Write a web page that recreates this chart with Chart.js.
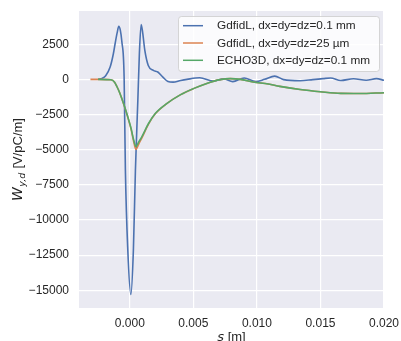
<!DOCTYPE html>
<html><head><meta charset="utf-8">
<script src="https://cdn.jsdelivr.net/npm/chart.js@4/dist/chart.umd.min.js"></script>
<style>html,body{margin:0;padding:0;background:#fff;overflow:hidden}#wrap{width:401px;height:341px}</style>
</head><body><div id="wrap"><canvas id="c" width="401" height="341"></canvas></div>
<script>
const seriesLabels = ["GdfidL, dx=dy=dz=0.1 mm", "GdfidL, dx=dy=dz=25 \u00b5m", "ECHO3D, dx=dy=dz=0.1 mm"];
const seriesColors = ["#4C72B0", "#DD8452", "#55A868"];

const gdfidlCoarseS = [-0.0025,-0.0022,-0.0019,-0.00155,-0.0013,-0.00116,-0.001,-0.00087,-0.00075,-0.00063,-0.00045,-0.00035,-0.00016,0.00008,0.00028,0.00044,0.00063,0.00075,0.00089,0.001,0.00118,0.00145,0.00185,0.0022,0.0026,0.003,0.0034,0.004,0.0045,0.0055,0.0066,0.0074,0.0081,0.009,0.0099,0.0106,0.0114,0.0121,0.0134,0.0144,0.0152,0.0158,0.0166,0.0176,0.0186,0.0194,0.02];
const gdfidlCoarseW = [0,60,250,870,1800,2530,3300,3780,3500,2700,160,-6450,-12130,-15300,-12130,-6450,-1490,1800,3900,3400,2060,990,640,520,160,-150,-200,-80,0,110,-120,30,-160,100,-160,0,230,-20,-100,-20,50,100,-80,40,-60,50,-70];

const gdfidlFineS = [-0.0031,-0.0025,-0.0015,-0.0012,-0.001,-0.0008,-0.00063,-0.00024,0.0001,0.0003,0.00048,0.0007,0.00094,0.00147,0.002,0.0029,0.004,0.005,0.006,0.0071,0.0079,0.0087,0.0097,0.0109,0.0118,0.0134,0.015,0.0166,0.0181,0.02];
const gdfidlFineW = [0,0,-30,-200,-545,-950,-1380,-2460,-3560,-4420,-4980,-4600,-4180,-3180,-2450,-1730,-1090,-660,-305,-21,50,0,-190,-330,-500,-720,-880,-1000,-1010,-950];

const echoS = [-0.0025,-0.0015,-0.0012,-0.001,-0.0008,-0.00063,-0.00024,0.0001,0.0003,0.00048,0.0007,0.00094,0.00147,0.002,0.0029,0.004,0.005,0.006,0.0071,0.0079,0.0087,0.0097,0.0109,0.0118,0.0134,0.015,0.0166,0.0181,0.02];
const echoW = [0,-30,-200,-545,-950,-1370,-2430,-3500,-4300,-4780,-4450,-4090,-3140,-2430,-1725,-1085,-660,-305,-21,50,0,-190,-330,-500,-720,-880,-1000,-1010,-950];

const xTicks = [0, 0.005, 0.010, 0.015, 0.020];
const yTicks = [2500, 0, -2500, -5000, -7500, -10000, -12500, -15000];

const TXT = '#262626';
const SANS = '"Liberation Sans", Arial, sans-serif';
const MATH = '"DejaVu Sans", sans-serif';

function pts(s, w) { return s.map((v, i) => ({x: v, y: w[i]})); }

const decor = {
  id: 'decor',
  beforeDraw(chart) {
    const {ctx, chartArea: a} = chart;
    ctx.save();
    ctx.fillStyle = '#EAEAF2';
    ctx.fillRect(a.left, a.top, a.right - a.left, a.bottom - a.top);
    ctx.restore();
  },
  afterDraw(chart) {
    const ctx = chart.ctx;
    const a = chart.chartArea;
    ctx.save();
    const bx = 178.5, by = 16.5, bw = 201, bh = 55, r = 3;
    ctx.beginPath();
    ctx.moveTo(bx + r, by);
    ctx.lineTo(bx + bw - r, by); ctx.quadraticCurveTo(bx + bw, by, bx + bw, by + r);
    ctx.lineTo(bx + bw, by + bh - r); ctx.quadraticCurveTo(bx + bw, by + bh, bx + bw - r, by + bh);
    ctx.lineTo(bx + r, by + bh); ctx.quadraticCurveTo(bx, by + bh, bx, by + bh - r);
    ctx.lineTo(bx, by + r); ctx.quadraticCurveTo(bx, by, bx + r, by);
    ctx.closePath();
    ctx.fillStyle = 'rgba(255,255,255,0.8)';
    ctx.fill();
    ctx.strokeStyle = 'rgba(204,204,204,0.8)';
    ctx.lineWidth = 1;
    ctx.stroke();
    chart.data.datasets.forEach((ds, i) => {
      const y = 25.7 + i * 17.3;
      ctx.beginPath();
      ctx.moveTo(183, y); ctx.lineTo(203, y);
      ctx.strokeStyle = ds.borderColor; ctx.lineWidth = 1.5;
      ctx.stroke();
      ctx.fillStyle = TXT;
      ctx.font = '11.8px ' + SANS;
      ctx.textBaseline = 'middle';
      ctx.textAlign = 'left';
      ctx.fillText(ds.label, 217, y + 0.5);
    });
    ctx.save();
    ctx.translate(21.5, (a.top + a.bottom) / 2);
    ctx.rotate(-Math.PI / 2);
    ctx.textBaseline = 'alphabetic';
    ctx.textAlign = 'left';
    const fW = 'italic 14px ' + MATH, fSub = 'italic 9.5px ' + MATH, fR = '13px ' + SANS;
    ctx.font = fW; const wW = ctx.measureText('W').width;
    ctx.font = fSub; const wS = ctx.measureText('y,d').width;
    ctx.font = fR; const wR = ctx.measureText(' [V/pC/m]').width;
    let x0 = -(wW + wS + 1 + wR) / 2;
    ctx.fillStyle = TXT;
    ctx.font = fW; ctx.fillText('W', x0, 0); x0 += wW + 0.5;
    ctx.font = fSub; ctx.fillText('y,d', x0, 3); x0 += wS + 0.5;
    ctx.font = fR; ctx.fillText(' [V/pC/m]', x0, 0);
    ctx.restore();
    ctx.font = 'italic 13px ' + MATH; const ws = ctx.measureText('s').width;
    ctx.font = '13px ' + SANS; const wm = ctx.measureText(' [m]').width;
    let xs = (a.left + a.right) / 2 - (ws + wm) / 2;
    ctx.fillStyle = TXT;
    ctx.textBaseline = 'alphabetic';
    ctx.font = 'italic 13px ' + MATH; ctx.fillText('s', xs, 341);
    ctx.font = '13px ' + SANS; ctx.fillText(' [m]', xs + ws, 341);
    ctx.restore();
  }
};

new Chart(document.getElementById('c'), {
  type: 'line',
  data: {
    datasets: [
      {label: seriesLabels[0], data: pts(gdfidlCoarseS, gdfidlCoarseW), borderColor: seriesColors[0], order: 2},
      {label: seriesLabels[1], data: pts(gdfidlFineS, gdfidlFineW), borderColor: seriesColors[1], order: 1},
      {label: seriesLabels[2], data: pts(echoS, echoW), borderColor: seriesColors[2], order: 0}
    ]
  },
  options: {
    responsive: false, animation: false, devicePixelRatio: 1,
    layout: {padding: {left: 0, top: 11, right: 17, bottom: 0}},
    plugins: {legend: {display: false}, tooltip: {enabled: false}},
    elements: {point: {radius: 0}, line: {borderWidth: 1.6, cubicInterpolationMode: 'monotone', fill: false}},
    scales: {
      x: {
        type: 'linear', min: -0.004, max: 0.02,
        afterFit(s) { s.height = 33; s.paddingLeft = 0; s.paddingRight = 0; },
        afterBuildTicks(s) { s.ticks = xTicks.map(v => ({value: v})); },
        grid: {color: '#ffffff', lineWidth: 1.2, drawTicks: false},
        border: {display: false},
        ticks: {padding: 8, color: TXT, font: {family: SANS, size: 12}, maxRotation: 0, autoSkip: false,
          callback: v => v.toFixed(3)}
      },
      y: {
        type: 'linear', min: -16260, max: 4860,
        afterFit(s) { s.width = 79; s.paddingTop = 0; s.paddingBottom = 0; },
        afterBuildTicks(s) { s.ticks = yTicks.map(v => ({value: v})); },
        grid: {color: '#ffffff', lineWidth: 1.2, drawTicks: false},
        border: {display: false},
        ticks: {padding: 10, color: TXT, font: {family: SANS, size: 12}, autoSkip: false,
          callback: v => v < 0 ? '\u2212' + Math.abs(v) : String(v)}
      }
    }
  },
  plugins: [decor]
});
</script></body></html>
